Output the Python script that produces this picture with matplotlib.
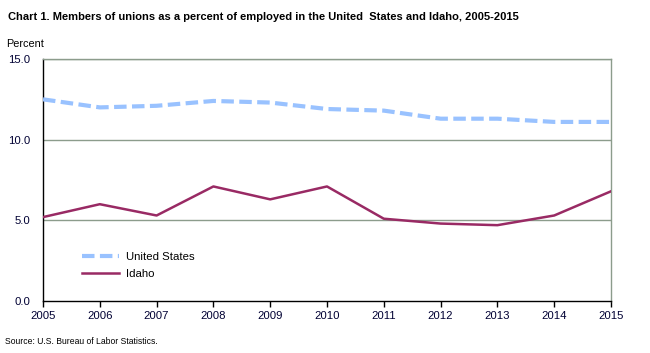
import matplotlib
matplotlib.use("Agg")
import matplotlib.pyplot as plt

years = [2005, 2006, 2007, 2008, 2009, 2010, 2011, 2012, 2013, 2014, 2015]
us = [12.5, 12.0, 12.1, 12.4, 12.3, 11.9, 11.8, 11.3, 11.3, 11.1, 11.1]
idaho = [5.2, 6.0, 5.3, 7.1, 6.3, 7.1, 5.1, 4.8, 4.7, 5.3, 6.8]
yticks = [0, 5, 10, 15]
ytick_labels = ["0.0", "5.0", "10.0", "15.0"]

plt.rcParams['font.family'] = ['Liberation Sans', 'DejaVu Sans']

fig = plt.figure(figsize=(6.5, 3.53), dpi=100)
ax = fig.add_axes([43/650, 52/353, (611-43)/650, (301-59)/353])

grid_c = '#8c9c8c'
for y in yticks[1:]:
    ax.axhline(y, color=grid_c, lw=1, zorder=1)

ax.plot(years, us, color='#99c2ff', lw=3, ls=(0, (3, 1.3)), label='United States', zorder=3)
ax.plot(years, idaho, color='#992a64', lw=1.8, label='Idaho', zorder=3)

ax.set_xlim(2005, 2015)
ax.set_ylim(0, 15)
ax.set_xticks(years)
ax.set_xticklabels([str(y) for y in years], fontsize=8.2)
ax.set_yticks(yticks)
ax.set_yticklabels(ytick_labels, fontsize=8.2)
ax.tick_params(axis='y', length=0, pad=9, colors='black')
ax.tick_params(axis='x', length=4, width=1, direction='out', pad=3)
for lab in ax.get_xticklabels() + ax.get_yticklabels():
    lab.set_color('#000033')

ax.spines['left'].set_color('black')
ax.spines['bottom'].set_color('black')
ax.spines['top'].set_color(grid_c)
ax.spines['right'].set_color(grid_c)
for s in ax.spines.values():
    s.set_linewidth(1)

leg = ax.legend(loc='lower left', bbox_to_anchor=(0.05, 0.05), frameon=False,
                fontsize=8.2, handlelength=3.3, handletextpad=0.6, labelspacing=0.55)

fig.text(8/650, 1 - 17/353, 'Chart 1. Members of unions as a percent of employed in the United  States and Idaho, 2005-2015',
         fontsize=8, fontweight='bold', va='center', ha='left')
fig.text(6/650, 1 - 44/353, 'Percent', fontsize=7.8, va='center', ha='left')
fig.text(5/650, 1 - 342/353, 'Source: U.S. Bureau of Labor Statistics.', fontsize=6.2, va='center', ha='left')

fig.savefig('out.png', dpi=100)
